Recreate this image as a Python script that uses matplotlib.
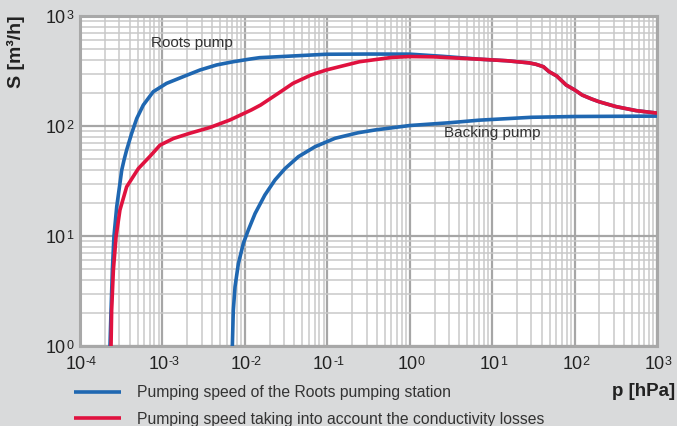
import numpy as np
import matplotlib
matplotlib.use('Agg')
import matplotlib.pyplot as plt
from matplotlib import font_manager
from matplotlib.lines import Line2D
from matplotlib.ticker import LogLocator, NullFormatter
from matplotlib.offsetbox import TextArea, HPacker, AnnotationBbox

plt.rcParams['font.family'] = ['Liberation Sans', 'DejaVu Sans']
installed = {f.name for f in font_manager.fontManager.ttflist}
narrow = 'Liberation Sans Narrow' in installed
tick_font = 'Liberation Sans Narrow' if narrow else 'Liberation Sans'
tick_size = 14 if narrow else 13

# pumping speed of the Roots pumping station (p in hPa, S in m3/h)
roots_p = [2.31e-4, 2.38e-4, 2.47e-4, 2.58e-4, 2.79e-4, 3.05e-4, 3.21e-4, 3.42e-4,
           3.68e-4, 4.24e-4, 4.88e-4, 5.86e-4, 7.74e-4, 1.12e-3, 1.79e-3, 2.86e-3,
           4.55e-3, 7.24e-3, 1.15e-2, 1.51e-2, 2.64e-2, 9.7e-2, 0.3, 1.0, 2.5, 7.0,
           15, 28, 34, 41.8, 49, 60.7, 79, 101, 124, 161, 199, 319, 557, 920, 1000]
roots_S = [1.0, 2.1, 4.9, 9.9, 18.5, 30, 39.8, 49,
           60.5, 86, 117, 155, 205, 244, 281, 323,
           359, 384, 406, 418, 427, 449, 451, 450, 430, 405,
           392, 375, 364, 346, 312, 285, 236, 212, 191, 176, 166, 150, 138, 132, 131]

# pumping speed taking into account the conductivity losses
cond_p = [2.38e-4, 2.42e-4, 2.54e-4, 2.74e-4, 3.05e-4, 3.68e-4, 5.1e-4, 7.06e-4,
          9.35e-4, 1.36e-3, 2.16e-3, 3.78e-3, 6.6e-3, 1.2e-2, 1.55e-2, 2.64e-2,
          3.83e-2, 6.3e-2, 9.7e-2, 0.246, 0.6, 1.0, 2.0, 3.0, 7.0,
          15, 28, 34, 41.8, 49, 60.7, 79, 101, 124, 161, 199, 319, 557, 920, 1000]
cond_S = [1.0, 2.1, 4.9, 9.9, 17.2, 28, 41, 53,
          67, 77, 86, 97, 113.5, 140, 155, 202,
          244, 290, 323, 384, 420, 428, 425, 418, 405,
          392, 375, 364, 346, 312, 285, 236, 212, 191, 176, 166, 150, 138, 132, 131]

# backing pump
back_p = [7.05e-3, 7.24e-3, 7.6e-3, 8.34e-3, 9.6e-3, 1.1e-2, 1.33e-2, 1.75e-2,
          2.32e-2, 3.07e-2, 4.46e-2, 7.1e-2, 0.124, 0.238, 0.379, 1.0,
          3.0, 7.0, 30, 100, 1000]
back_S = [1.0, 2.1, 3.46, 5.6, 8.6, 11.3, 16, 23.6,
          32.3, 41, 52.6, 64.8, 77.3, 86.9, 92, 101,
          107, 113, 120, 122, 123]

x_ticks = [1e-4, 1e-3, 1e-2, 1e-1, 1e0, 1e1, 1e2, 1e3]
x_exps = ['-4', '-3', '-2', '-1', '0', '1', '2', '3']
y_ticks = [1e0, 1e1, 1e2, 1e3]
y_exps = ['0', '1', '2', '3']

blue = '#1f67b1'
red = '#e0123f'
bg = '#d9dadb'

fig = plt.figure(figsize=(6.77, 4.26), dpi=100, facecolor=bg)
ax = fig.add_axes([80/677, 80/426, 577/677, 330/426])
ax.set_facecolor('white')

ax.plot(back_p, back_S, color=blue, lw=2.6, solid_capstyle='butt', zorder=3)
ax.plot(roots_p, roots_S, color=blue, lw=2.6, solid_capstyle='butt', zorder=3)
ax.plot(cond_p, cond_S, color=red, lw=2.6, solid_capstyle='butt', zorder=4)

ax.set_xscale('log')
ax.set_yscale('log')
ax.set_xlim(1e-4, 1e3)
ax.set_ylim(1e0, 1e3)

ax.set_xticks(x_ticks)
ax.set_yticks(y_ticks)
ax.xaxis.set_minor_locator(LogLocator(base=10, subs=np.arange(2, 10), numticks=20))
ax.yaxis.set_minor_locator(LogLocator(base=10, subs=np.arange(2, 10), numticks=20))
ax.xaxis.set_major_formatter(NullFormatter())
ax.yaxis.set_major_formatter(NullFormatter())
ax.xaxis.set_minor_formatter(NullFormatter())
ax.yaxis.set_minor_formatter(NullFormatter())
ax.tick_params(which='both', length=0)

ax.grid(True, which='major', color='#a6a6a6', lw=1.6, zorder=1)
ax.grid(True, which='minor', color='#c9c9c9', lw=1.1, zorder=1)
ax.set_axisbelow(True)
for s in ax.spines.values():
    s.set_color('#a8a8a8')
    s.set_linewidth(2.2)


def power_label(xy, xycoords, exp, align, offset):
    base = TextArea('10', textprops=dict(fontsize=tick_size, family=tick_font, color='#222222'))
    sup = TextArea(exp, textprops=dict(fontsize=9, family=tick_font, color='#222222'))
    box = HPacker(children=[base, sup], align='top', pad=0, sep=0)
    ab = AnnotationBbox(box, xy, xycoords=xycoords, xybox=offset, boxcoords='offset points',
                        frameon=False, box_alignment=align, annotation_clip=False, pad=0)
    ax.add_artist(ab)


for t, e in zip(x_ticks, x_exps):
    power_label((t, 0), ax.get_xaxis_transform(), e, (0.5, 1), (1, -7.5))
for t, e in zip(y_ticks, y_exps):
    power_label((0, t), ax.get_yaxis_transform(), e, (1, 0.5), (-5, -1.5))

ax.text(2.29e-3, 568, 'Roots pump', fontsize=11, color='#333333', ha='center', va='center')
ax.text(10, 86.4, 'Backing pump', fontsize=11, color='#333333', ha='center', va='center')

fig.text(16/677, 1 - 52/426, 'S [m³/h]', rotation=90, fontsize=14, fontweight='bold',
         ha='center', va='center', color='#222222')
fig.text(675/677, 1 - 391/426, 'p [hPa]', fontsize=13.5, fontweight='bold',
         ha='right', va='center', color='#222222')

handles = [Line2D([], [], color=blue, lw=2.6, solid_capstyle='butt'),
           Line2D([], [], color=red, lw=2.6, solid_capstyle='butt')]
labels = ['Pumping speed of the Roots pumping station',
          'Pumping speed taking into account the conductivity losses']
fig.legend(handles, labels, loc='upper left', bbox_to_anchor=(74/677, 1 - 385/426),
           frameon=False, fontsize=11.3, handlelength=3.0, handletextpad=1.02,
           labelspacing=0.74, borderpad=0, borderaxespad=0, labelcolor='#333333')

fig.savefig('out.png', dpi=100, facecolor=bg)
